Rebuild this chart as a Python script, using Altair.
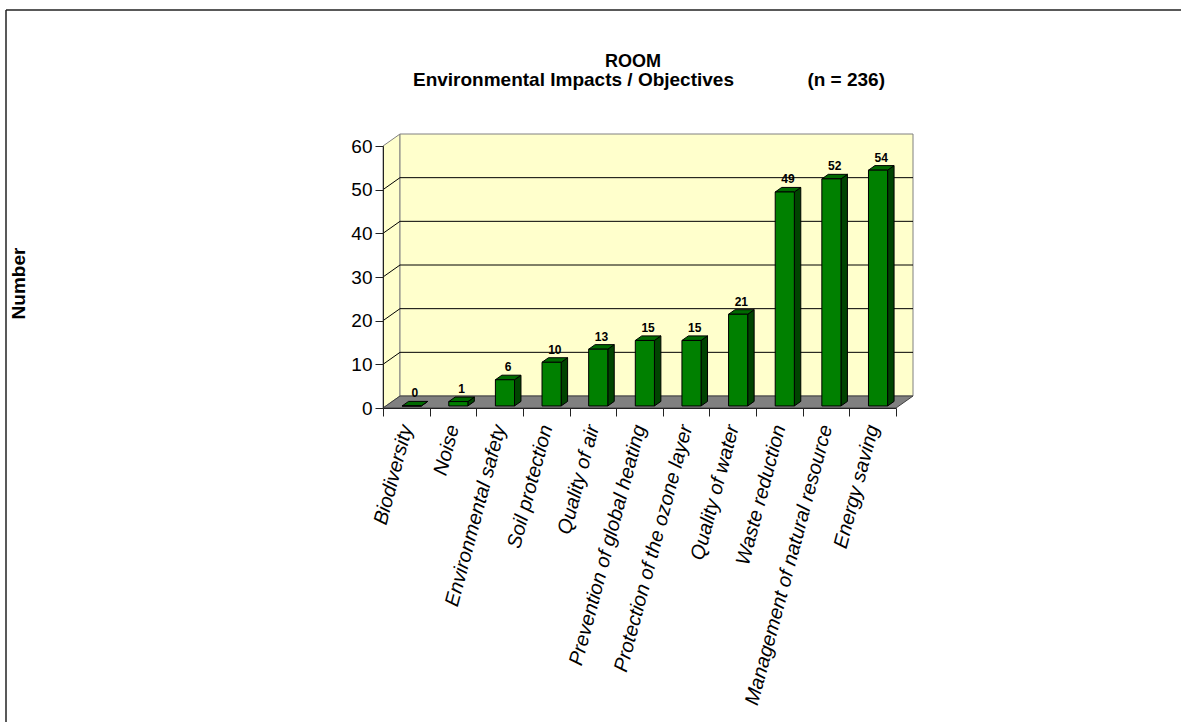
import json
import altair as alt
import pandas as pd

# ---- chart data ----
categories = [
    "Biodiversity", "Noise", "Environmental safety", "Soil protection",
    "Quality of air", "Prevention of global heating",
    "Protection of the ozone layer", "Quality of water",
    "Waste reduction", "Management of natural resource", "Energy saving",
]
counts = [0, 1, 6, 10, 13, 15, 15, 21, 49, 52, 54]
y_ticks = [0, 10, 20, 30, 40, 50, 60]

title_text = "ROOM"
subtitle_left = "Environmental Impacts / Objectives"
subtitle_right = "(n = 236)"
y_title = "Number"

FONT = "Liberation Sans"
n = len(categories)
Y_MAX = y_ticks[-1]

# ---- pseudo 3-D geometry (depth shift expressed in scale units) ----
PLOT_W, PLOT_H = 513, 262
DX = 17 / (PLOT_W / n)        # back plane shift along x, in category units
DY = 12 / (PLOT_H / Y_MAX)    # back plane shift along y, in count units
F0, F1 = 0.17, 0.55           # front / back depth fraction of every bar
BAR_W = 0.41                  # bar width, in category units
BAR_C = 0.553                 # bar centre inside its category slot

front_rows, side_rows, top_rows, label_rows = [], [], [], []
for i, (cat, v) in enumerate(zip(categories, counts)):
    xl = i + BAR_C - BAR_W / 2
    xr = xl + BAR_W
    front_rows.append(dict(cat=cat, x=xl + F0 * DX, x2=xr + F0 * DX,
                           y=F0 * DY, y2=v + F0 * DY))
    for f in (F0, F1):
        side_rows.append(dict(cat=cat, x=xr + f * DX, y=f * DY, y2=v + f * DY))
        top_rows.append(dict(cat=cat, y=v + f * DY, x=xl + f * DX, x2=xr + f * DX))
    label_rows.append(dict(cat=cat, v=v,
                           x=(xl + xr) / 2 + (F0 + F1) / 2 * DX,
                           y=v + F1 * DY))

front_df = pd.DataFrame(front_rows)
side_df = pd.DataFrame(side_rows)
top_df = pd.DataFrame(top_rows)
label_df = pd.DataFrame(label_rows)

side_wall_df = pd.DataFrame(dict(x=[0, DX], y=[0, DY], y2=[Y_MAX, Y_MAX + DY]))
back_wall_df = pd.DataFrame(dict(x=[DX], x2=[n + DX], y=[DY], y2=[Y_MAX + DY]))
floor_df = pd.DataFrame(dict(y=[0, DY], x=[0, DX], x2=[n, n + DX]))
inner = y_ticks[1:-1]
grid_back_df = pd.DataFrame(dict(y=[t + DY for t in inner], x=DX, x2=n + DX))
grid_side_df = pd.DataFrame(dict(x=0.0, x2=DX, y=inner, y2=[t + DY for t in inner]))

# ---- scales and axes ----
x_scale = alt.Scale(domain=[0, n], nice=False, zero=False)
y_scale = alt.Scale(domain=[0, Y_MAX], nice=False)

names_js = json.dumps(categories)
x_axis = alt.Axis(
    values=[k / 2 for k in range(0, 2 * n + 1)],
    labelExpr=f"datum.value % 1 == 0 ? '' : {names_js}[floor(datum.value)]",
    tickOpacity={"condition": {"test": "datum.value % 1 == 0", "value": 1}, "value": 0},
    tickSize=8, tickColor="#222", domainColor="#222", grid=False,
    labelAngle=285, labelAlign="right", labelBaseline="middle",
    labelPadding=9, labelFontSize=20, labelFontStyle="italic", labelFont=FONT,
    labelColor="black", labelOverlap=False, labelBound=False, labelFlush=False,
    labelLimit=1000, title="", zindex=1,
)
y_axis = alt.Axis(
    values=y_ticks, tickSize=8, tickColor="#222", domainColor="#222", grid=False,
    labelPadding=3, labelFontSize=19, labelFont=FONT, labelColor="black",
    title=y_title, titleFont=FONT, titleFontSize=19, titleFontWeight="bold",
    titleColor="black", titleAngle=270, titleX=-365, titleY=137,
    titleAlign="center", titleBaseline="middle", zindex=1,
)


def X(field="x"):
    return alt.X(f"{field}:Q", scale=x_scale, axis=x_axis)


def Y(field="y"):
    return alt.Y(f"{field}:Q", scale=y_scale, axis=y_axis)


# ---- walls and floor ----
side_wall = alt.Chart(side_wall_df).mark_area(
    fill="#FFFFCC", stroke="#808080", strokeWidth=1
).encode(x=X(), y=Y(), y2="y2:Q")

back_wall = alt.Chart(back_wall_df).mark_rect(
    fill="#FFFFCC", stroke="#808080", strokeWidth=1
).encode(x=X(), x2="x2:Q", y=Y(), y2="y2:Q")

grid_back = alt.Chart(grid_back_df).mark_rule(color="black", strokeWidth=1).encode(
    x=X(), x2="x2:Q", y=Y()
)
grid_side = alt.Chart(grid_side_df).mark_rule(color="black", strokeWidth=1).encode(
    x=X(), x2="x2:Q", y=Y(), y2="y2:Q"
)

floor = alt.Chart(floor_df).mark_area(
    orient="horizontal", fill="#808080", stroke="#404040", strokeWidth=1
).encode(y=Y(), x=X(), x2="x2:Q")

# ---- 3-D bars ----
bar_side = alt.Chart(side_df).mark_area(
    fill="#004400", stroke="black", strokeWidth=1
).encode(x=X(), y=Y(), y2="y2:Q", detail="cat:N")

bar_top = alt.Chart(top_df).mark_area(
    orient="horizontal", fill="#006A00", stroke="black", strokeWidth=1
).encode(y=Y(), x=X(), x2="x2:Q", detail="cat:N")

bar_front = alt.Chart(front_df).mark_rect(
    fill="#008000", stroke="black", strokeWidth=1
).encode(x=X(), x2="x2:Q", y=Y(), y2="y2:Q")

value_labels = alt.Chart(label_df).mark_text(
    font=FONT, fontSize=12, fontWeight="bold", color="black",
    baseline="bottom", align="center", dy=-1
).encode(x=X(), y=Y(), text="v:Q")

# ---- titles ----
title_df = pd.DataFrame(dict(t=[title_text]))
sub_left_df = pd.DataFrame(dict(t=[subtitle_left]))
sub_right_df = pd.DataFrame(dict(t=[subtitle_right]))

title = alt.Chart(title_df).mark_text(
    font=FONT, fontSize=18, fontWeight="bold", color="black", align="center",
    baseline="middle"
).encode(x=alt.value(250), y=alt.value(-84), text="t:N")
sub_left = alt.Chart(sub_left_df).mark_text(
    font=FONT, fontSize=19, fontWeight="bold", color="black", align="left",
    baseline="middle"
).encode(x=alt.value(30), y=alt.value(-66), text="t:N")
sub_right = alt.Chart(sub_right_df).mark_text(
    font=FONT, fontSize=19, fontWeight="bold", color="black", align="right",
    baseline="middle"
).encode(x=alt.value(502), y=alt.value(-66), text="t:N")

# outer frame of the chart object (open on the right and bottom)
frame_top = alt.Chart(title_df).mark_rule(color="#222", strokeWidth=1.5).encode(
    x=alt.value(-377), x2=alt.value(900), y=alt.value(-136)
)
frame_left = alt.Chart(title_df).mark_rule(color="#222", strokeWidth=1.5).encode(
    x=alt.value(-377), y=alt.value(-136), y2=alt.value(700)
)

chart = alt.layer(
    frame_top, frame_left, side_wall, back_wall, grid_back, grid_side, floor,
    bar_side, bar_top, bar_front, value_labels, title, sub_left, sub_right,
).properties(
    width=PLOT_W, height=PLOT_H,
    autosize=alt.AutoSizeParams(type="none"),
    padding={"left": 383, "top": 146, "right": 285, "bottom": 314},
    background="white",
).configure_view(stroke=None)

chart.save("out.html", embed_options={"renderer": "svg", "actions": False})
